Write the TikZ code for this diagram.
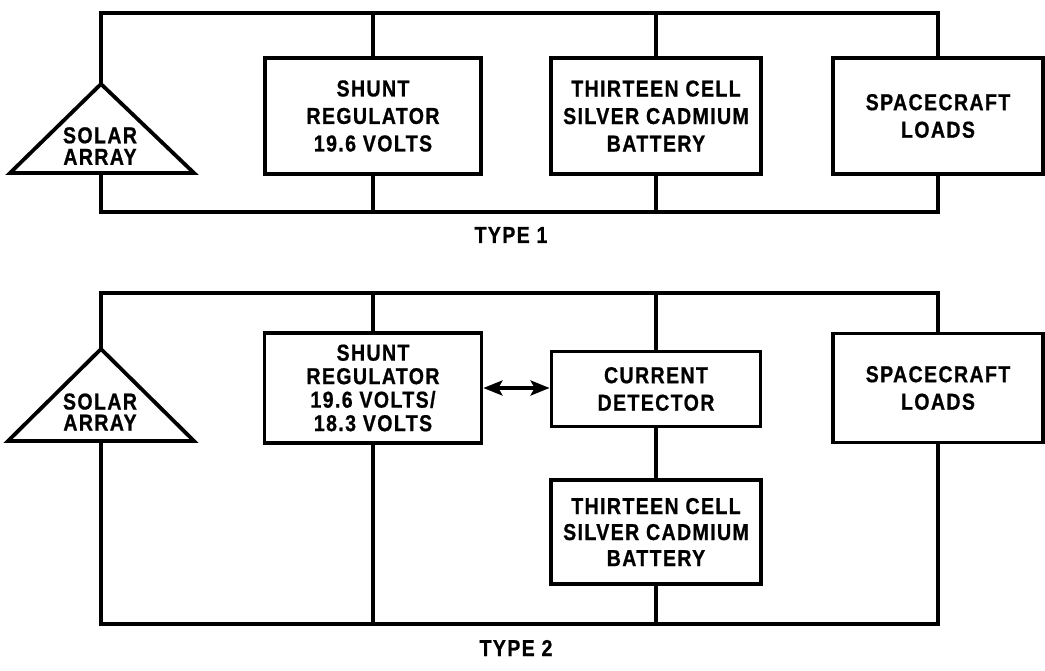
\documentclass[tikz,border=0pt]{standalone}
\usepackage{fontspec}
\newfontfamily\lblfont[FakeStretch=0.85,LetterSpace=6,FakeBold=0.8]{Liberation Sans}
\usetikzlibrary{arrows.meta}
\begin{document}
\begin{tikzpicture}[x=1pt,y=-1pt,
  txt/.style={inner sep=0pt, align=center, font=\lblfont\bfseries\fontsize{23}{27.5}\selectfont},
  blk/.style={txt, draw, line width=3.8pt},
  wire/.style={line width=4.4pt, line join=miter},
  tri/.style={line width=3.8pt, line join=miter},
  dblarrow/.style={line width=3.5pt, {Stealth[length=19pt,width=15pt,inset=4pt]}-{Stealth[length=19pt,width=15pt,inset=4pt]}}]
\useasboundingbox (0,0) rectangle (1045,671);
\fill[white] (0,0) rectangle (1045,671);

% ---------------- TYPE 1 ----------------
\coordinate (t1L) at (101,13);
\coordinate (t1R) at (938,13);
\coordinate (b1L) at (101,212);
\coordinate (b1R) at (938,212);
\coordinate (sa1top) at (101,84);
\coordinate (sa1l) at (10,173);
\coordinate (sa1r) at (194,173);
\coordinate (sa1bot) at (101,173);
\draw[tri] (sa1top) -- (sa1r) -- (sa1l) -- cycle;
\node[txt, font=\lblfont\bfseries\fontsize{23}{21.5}\selectfont] (sa1) at (100,146) {SOLAR\\ARRAY};

\node[blk, minimum width=216pt, minimum height=116pt] (sh1) at (373,116) {SHUNT\\REGULATOR\\19.6 VOLTS};
\node[blk, minimum width=210pt, minimum height=116pt] (bat1) at (656,116) {THIRTEEN CELL\\SILVER CADMIUM\\BATTERY};
\node[blk, minimum width=210pt, minimum height=116pt] (ld1) at (938,116) {SPACECRAFT\\LOADS};

\draw[wire] (sa1top) -- (t1L) -- (t1R) -- (ld1.north);
\draw[wire] (sa1bot) -- (b1L) -- (b1R) -- (ld1.south);
\draw[wire] (sh1.north) -- (sh1.north |- t1L);
\draw[wire] (sh1.south) -- (sh1.south |- b1L);
\draw[wire] (bat1.north) -- (bat1.north |- t1L);
\draw[wire] (bat1.south) -- (bat1.south |- b1L);

\node[txt] (ty1) at (511,235) {TYPE 1};

% ---------------- TYPE 2 ----------------
\coordinate (t2L) at (101,293);
\coordinate (t2R) at (938,293);
\coordinate (b2L) at (101,624);
\coordinate (b2R) at (938,624);
\coordinate (sa2top) at (101,349);
\coordinate (sa2l) at (8,441);
\coordinate (sa2r) at (194,441);
\coordinate (sa2bot) at (101,441);
\draw[tri] (sa2top) -- (sa2r) -- (sa2l) -- cycle;
\node[txt, font=\lblfont\bfseries\fontsize{23}{21}\selectfont] (sa2) at (100,412) {SOLAR\\ARRAY};

\node[blk, minimum width=217pt, minimum height=110pt, font=\lblfont\bfseries\fontsize{23}{23.5}\selectfont] (sh2) at (373,388) {SHUNT\\REGULATOR\\19.6 VOLTS/\\18.3 VOLTS};
\node[blk, minimum width=209pt, minimum height=75pt] (det) at (656,389) {CURRENT\\DETECTOR};
\node[blk, minimum width=210pt, minimum height=104pt, font=\lblfont\bfseries\fontsize{23}{26}\selectfont] (bat2) at (656,532) {THIRTEEN CELL\\SILVER CADMIUM\\BATTERY};
\node[blk, minimum width=210pt, minimum height=109pt] (ld2) at (938,388) {SPACECRAFT\\LOADS};

\draw[wire] (sa2top) -- (t2L) -- (t2R) -- (ld2.north);
\draw[wire] (sa2bot) -- (b2L) -- (b2R) -- (ld2.south);
\draw[wire] (sh2.north) -- (sh2.north |- t2L);
\draw[wire] (sh2.south) -- (sh2.south |- b2L);
\draw[wire] (det.north) -- (det.north |- t2L);
\draw[wire] (det.south) -- (bat2.north);
\draw[wire] (bat2.south) -- (bat2.south |- b2L);
\draw[dblarrow] (sh2.east) -- (det.west |- sh2.east);

\node[txt] (ty2) at (516,648) {TYPE 2};
\end{tikzpicture}
\end{document}
